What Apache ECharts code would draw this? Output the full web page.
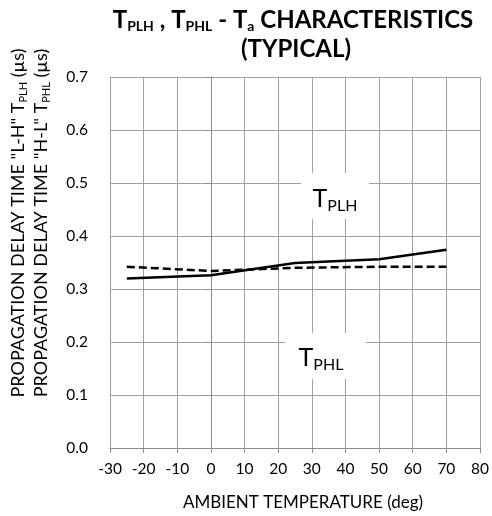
<!DOCTYPE html>
<html>
<head>
<meta charset="utf-8">
<script src="https://cdn.jsdelivr.net/npm/echarts@6/dist/echarts.min.js"></script>
<style>html,body{margin:0;padding:0;background:#fff;}#c{width:492px;height:516px;}</style>
</head>
<body>
<div id="c"></div>
<script>
// Data
const tplhTemps = [-25, 0, 25, 50, 70];
const tplhValues = [0.320, 0.326, 0.349, 0.356, 0.374];
const tphlTemps = [-25, 0, 25, 50, 70];
const tphlValues = [0.342, 0.334, 0.340, 0.342, 0.342];
const xTicks = [-30, -20, -10, 0, 10, 20, 30, 40, 50, 60, 70, 80];
const yTicks = [0.0, 0.1, 0.2, 0.3, 0.4, 0.5, 0.6, 0.7];

const FONT = 'Lato, "Open Sans", sans-serif';
const GRID = '#a0a0a0';

const chart = echarts.init(document.getElementById('c'), null, {renderer: 'canvas'});

function pairs(xs, ys) { return xs.map((x, i) => [x, ys[i]]); }

const option = {
  backgroundColor: '#fff',
  animation: false,
  textStyle: {fontFamily: FONT},
  grid: {left: 110, right: 11, top: 77, bottom: 68, containLabel: false},
  xAxis: {
    type: 'value',
    min: xTicks[0], max: xTicks[xTicks.length - 1], interval: 10,
    axisLine: {show: true, lineStyle: {color: '#8c8c8c', width: 1}},
    axisTick: {show: true, length: 5, inside: false, lineStyle: {color: '#8c8c8c'}},
    splitLine: {show: true, lineStyle: {color: GRID, width: 1}},
    axisLabel: {color: '#000', fontSize: 15.5, fontFamily: FONT, margin: 13},
    name: 'AMBIENT TEMPERATURE (deg)',
    nameLocation: 'middle', nameGap: 46,
    nameTextStyle: {color: '#000', fontSize: 17, fontFamily: FONT, padding: [0, 0, 0, 16]}
  },
  yAxis: {
    type: 'value',
    min: yTicks[0], max: yTicks[yTicks.length - 1], interval: 0.1,
    axisLine: {show: true, lineStyle: {color: '#8c8c8c', width: 1}},
    axisTick: {show: true, length: 6, inside: false, lineStyle: {color: '#8c8c8c'}},
    splitLine: {show: true, lineStyle: {color: GRID, width: 1}},
    axisLabel: {color: '#000', fontSize: 15.5, fontFamily: FONT, margin: 22,
      formatter: v => v.toFixed(1)}
  },
  series: [
    {
      name: 'TPLH', type: 'line', data: pairs(tplhTemps, tplhValues),
      symbol: 'none', lineStyle: {color: '#000', width: 2.5, type: 'solid'}, z: 5
    },
    {
      name: 'TPHL', type: 'line', data: pairs(tphlTemps, tphlValues),
      symbol: 'none', lineStyle: {color: '#000', width: 2.5, type: [8, 4]}, z: 5
    }
  ],
  graphic: [
    // Title line 1
    {
      type: 'text', x: 293, y: 20, z: 10,
      style: {
        text: '{b|T}{s|PLH}{b| , T}{s|PHL}{b| - T}{s|a}{b| CHARACTERISTICS}',
        align: 'center', verticalAlign: 'middle', fill: '#000',
        rich: {
          b: {fontSize: 24, fontWeight: 'bold', fontFamily: FONT, lineHeight: 26, fill: '#000'},
          s: {fontSize: 14, fontWeight: 'bold', fontFamily: FONT, lineHeight: 14, verticalAlign: 'bottom', fill: '#000'}
        }
      }
    },
    // Title line 2
    {
      type: 'text', x: 296, y: 49, z: 10,
      style: {
        text: '(TYPICAL)', align: 'center', verticalAlign: 'middle', fill: '#000',
        font: 'bold 24px ' + FONT
      }
    },
    // Y axis name line 1
    {
      type: 'text', x: 18, y: 223, rotation: Math.PI / 2, z: 10,
      style: {
        text: '{a|PROPAGATION DELAY TIME "L-H" T}{s|PLH}{a| (µs)}',
        align: 'center', verticalAlign: 'middle', fill: '#000',
        rich: {
          a: {fontSize: 18, fontFamily: FONT, lineHeight: 22, fill: '#000'},
          s: {fontSize: 11, fontFamily: FONT, lineHeight: 11, verticalAlign: 'bottom', fill: '#000'}
        }
      }
    },
    // Y axis name line 2
    {
      type: 'text', x: 41, y: 223, rotation: Math.PI / 2, z: 10,
      style: {
        text: '{a|PROPAGATION DELAY TIME "H-L" T}{s|PHL}{a| (µs)}',
        align: 'center', verticalAlign: 'middle', fill: '#000',
        rich: {
          a: {fontSize: 18, fontFamily: FONT, lineHeight: 22, fill: '#000'},
          s: {fontSize: 11, fontFamily: FONT, lineHeight: 11, verticalAlign: 'bottom', fill: '#000'}
        }
      }
    },
    // TPLH annotation box
    {
      type: 'rect', shape: {x: 301, y: 173, width: 68, height: 46}, z: 8,
      style: {fill: '#fff'}
    },
    {
      type: 'text', x: 335, y: 199, z: 9,
      style: {
        text: '{t|T}{s|PLH}', align: 'center', verticalAlign: 'middle',
        rich: {
          t: {fontSize: 25, fontFamily: FONT, lineHeight: 30, fill: '#000'},
          s: {fontSize: 16, fontFamily: FONT, lineHeight: 16, verticalAlign: 'bottom', fill: '#000'}
        }
      }
    },
    // TPHL annotation box
    {
      type: 'rect', shape: {x: 285, y: 333, width: 81, height: 46}, z: 8,
      style: {fill: '#fff'}
    },
    {
      type: 'text', x: 321, y: 358, z: 9,
      style: {
        text: '{t|T}{s|PHL}', align: 'center', verticalAlign: 'middle',
        rich: {
          t: {fontSize: 25, fontFamily: FONT, lineHeight: 30, fill: '#000'},
          s: {fontSize: 16, fontFamily: FONT, lineHeight: 16, verticalAlign: 'bottom', fill: '#000'}
        }
      }
    }
  ]
};
chart.setOption(option);
</script>
</body>
</html>
